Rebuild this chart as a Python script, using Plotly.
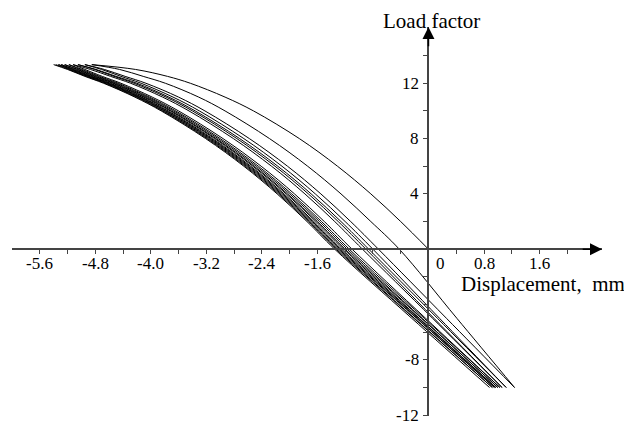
import plotly.graph_objects as go

# ---- data ----
# load-factor levels at which displacement (mm) of every cyclic branch was read
y_levels = [13.35, 13.0, 12.5, 12.0, 11.0, 10.0, 8.0, 6.0, 4.0, 2.0, 0.0, -5.0, -10.0]

# initial loading branch starting at the origin
origin_y = [0.0, 2.0, 4.0, 6.0, 8.0, 10.0, 11.0, 12.0, 12.5, 13.0, 13.35]
origin_x = [0.0, -0.40, -0.83, -1.31, -1.86, -2.52, -2.93, -3.43, -3.76, -4.22, -4.85]

# cyclic branches: displacement at y_levels
u1 = [-4.85, -4.45, -4.11, -3.79, -3.31, -2.93, -2.29, -1.74, -1.26, -0.83, -0.42, 0.41, 1.24]
l1 = [-4.95, -4.67, -4.37, -4.07, -3.60, -3.22, -2.58, -2.03, -1.55, -1.12, -0.72, 0.26, 1.24]
u2 = [-4.95, -4.71, -4.43, -4.14, -3.68, -3.30, -2.66, -2.11, -1.63, -1.20, -0.80, 0.16, 1.12]
l2 = [-5.05, -4.79, -4.50, -4.20, -3.74, -3.36, -2.72, -2.17, -1.69, -1.26, -0.86, 0.13, 1.12]
u3 = [-5.05, -4.81, -4.53, -4.24, -3.78, -3.40, -2.76, -2.21, -1.73, -1.30, -0.90, 0.08, 1.06]
l3 = [-5.12, -4.87, -4.58, -4.29, -3.83, -3.45, -2.81, -2.26, -1.78, -1.35, -0.95, 0.06, 1.06]
u4 = [-5.12, -4.95, -4.70, -4.43, -3.98, -3.60, -2.96, -2.41, -1.93, -1.50, -1.10, -0.04, 1.03]
l4 = [-5.18, -4.99, -4.74, -4.47, -4.02, -3.64, -3.00, -2.45, -1.97, -1.54, -1.14, -0.06, 1.03]
u5 = [-5.18, -5.02, -4.77, -4.50, -4.05, -3.67, -3.03, -2.48, -2.00, -1.57, -1.17, -0.09, 1.00]
l5 = [-5.24, -5.05, -4.80, -4.53, -4.08, -3.70, -3.06, -2.51, -2.03, -1.60, -1.20, -0.10, 1.00]
u6 = [-5.24, -5.07, -4.82, -4.55, -4.10, -3.72, -3.08, -2.53, -2.05, -1.62, -1.22, -0.13, 0.97]
l6 = [-5.29, -5.10, -4.85, -4.58, -4.13, -3.75, -3.11, -2.56, -2.08, -1.65, -1.25, -0.14, 0.97]
u7 = [-5.29, -5.12, -4.87, -4.60, -4.15, -3.77, -3.13, -2.58, -2.10, -1.67, -1.27, -0.16, 0.95]
l7 = [-5.33, -5.14, -4.89, -4.62, -4.17, -3.79, -3.15, -2.60, -2.12, -1.69, -1.29, -0.17, 0.95]
u8 = [-5.33, -5.16, -4.91, -4.64, -4.19, -3.81, -3.17, -2.62, -2.14, -1.71, -1.31, -0.20, 0.92]
l8 = [-5.37, -5.18, -4.93, -4.66, -4.21, -3.83, -3.19, -2.64, -2.16, -1.73, -1.33, -0.21, 0.92]
u9 = [-5.40, -5.20, -4.95, -4.68, -4.23, -3.85, -3.21, -2.66, -2.18, -1.75, -1.35, -0.24, 0.88]

# tick marks and labels
x_tickvals = [-5.6, -5.2, -4.8, -4.4, -4.0, -3.6, -3.2, -2.8, -2.4, -2.0, -1.6, -1.2,
              -0.8, -0.4, 0.0, 0.4, 0.8, 1.2, 1.6, 2.0]
x_labelvals = [-5.6, -4.8, -4.0, -3.2, -2.4, -1.6, 0.8, 1.6]
x_labeltext = ["-5.6", "-4.8", "-4.0", "-3.2", "-2.4", "-1.6", "0.8", "1.6"]
y_tickvals = [-12, -10, -8, -6, -4, -2, 0, 2, 4, 6, 8, 10, 12, 14]
y_labelvals = [-12, -8, 4, 8, 12]
y_labeltext = ["-12", "-8", "4", "8", "12"]

x_range = [-6.0, 2.5]
y_range = [-12.06, 16.07]

# ---- figure ----
FONT = "Liberation Serif, Times New Roman, serif"
AX = "#444444"
fig = go.Figure()

line_style = dict(color="black", width=1, shape="spline", smoothing=1.0)
fig.add_trace(go.Scatter(x=origin_x, y=origin_y, mode="lines", line=line_style,
                         hoverinfo="skip"))
for br in [u1, l1, u2, l2, u3, l3, u4, l4, u5, l5, u6, l6, u7, l7, u8, l8, u9]:
    fig.add_trace(go.Scatter(x=br, y=y_levels, mode="lines", line=line_style,
                             hoverinfo="skip"))

xpos = (0 - y_range[0]) / (y_range[1] - y_range[0])
ypos = (0 - x_range[0]) / (x_range[1] - x_range[0])

fig.update_layout(
    width=624, height=417,
    margin=dict(l=4, r=30, t=19, b=9),
    paper_bgcolor="white", plot_bgcolor="white",
    showlegend=False,
    font=dict(family=FONT, color="black", size=17),
    xaxis=dict(range=x_range, domain=[0, 1], anchor="free", position=xpos,
               showline=True, linecolor=AX, linewidth=1.5,
               ticks="outside", ticklen=4, tickwidth=1, tickcolor=AX,
               tickvals=x_tickvals, showticklabels=False,
               showgrid=False, zeroline=False, automargin=False),
    yaxis=dict(range=y_range, domain=[0, 1], anchor="free", position=ypos,
               showline=True, linecolor=AX, linewidth=1.5,
               ticks="outside", ticklen=5, tickwidth=1, tickcolor=AX,
               tickvals=y_tickvals, showticklabels=False,
               showgrid=False, zeroline=False, automargin=False),
)

# tick labels (serif text placed on the axis scales)
for v, t in zip(x_labelvals, x_labeltext):
    fig.add_annotation(x=v, y=0, xref="x", yref="y", text=t, showarrow=False,
                       yanchor="middle", yshift=-14,
                       font=dict(family=FONT, size=17, color="black"))
for v, t in zip(y_labelvals, y_labeltext):
    fig.add_annotation(x=0, y=v, xref="x", yref="y", text=t, showarrow=False,
                       xanchor="right", xshift=-7, yanchor="middle",
                       font=dict(family=FONT, size=17, color="black"))
# "0" label offset to the right of the vertical axis
fig.add_annotation(x=0.18, y=0, xref="x", yref="y", text="0", showarrow=False,
                   yanchor="middle", yshift=-14,
                   font=dict(family=FONT, size=17, color="black"))

# arrow heads on the axes
fig.add_annotation(x=x_range[1], y=0, ax=x_range[1] - 0.3, ay=0, xref="x", yref="y",
                   axref="x", ayref="y", text="", showarrow=True, arrowhead=2,
                   arrowsize=1.6, arrowwidth=1.5, arrowcolor="black", standoff=0)
fig.add_annotation(x=0, y=y_range[1], ax=0, ay=y_range[1] - 1.5, xref="x", yref="y",
                   axref="x", ayref="y", text="", showarrow=True, arrowhead=2,
                   arrowsize=1.6, arrowwidth=1.5, arrowcolor="black", standoff=0)

# axis titles
fig.add_annotation(x=0.05, y=y_range[1], xref="x", yref="y", text="Load factor",
                   showarrow=False, yanchor="bottom", yshift=-8,
                   font=dict(family=FONT, size=21, color="black"))
fig.add_annotation(x=0.7576, y=-2.55, xref="paper", yref="y",
                   text="Displacement,\u00a0\u00a0mm", showarrow=False,
                   xanchor="left", yanchor="middle",
                   font=dict(family=FONT, size=21, color="black"))

fig.write_html("out.html")
